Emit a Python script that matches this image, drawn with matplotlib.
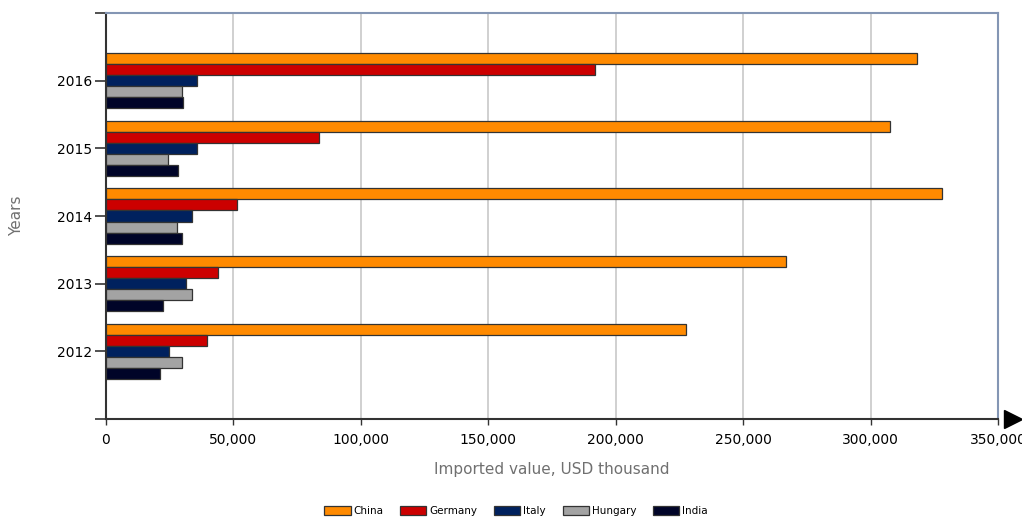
import matplotlib
matplotlib.use("Agg")
import matplotlib.pyplot as plt
import numpy as np
from matplotlib.ticker import FuncFormatter

years = ["2012", "2013", "2014", "2015", "2016"]
countries = ["China", "Germany", "Italy", "Hungary", "India"]
china = [227500, 267000, 328200, 307700, 318300]
germany = [39600, 43900, 51400, 83500, 191800]
italy = [24700, 31400, 33700, 35700, 35700]
hungary = [29800, 33700, 27800, 24300, 29800]
india = [21200, 22400, 29800, 28200, 30200]
series = [china, germany, italy, hungary, india]
colors = ["#FF8A00", "#CC0000", "#00215E", "#A3A3A3", "#000428"]

fig = plt.figure(figsize=(10.22, 5.18), dpi=100)
ax = fig.add_axes([0.1037, 0.1911, 0.8728, 0.7838])

bh = 0.163
y = np.arange(len(years))
for i, (name, vals, c) in enumerate(zip(countries, series, colors)):
    offs = (2 - i) * bh
    ax.barh(y + offs, vals, height=bh, color=c, edgecolor="#333333",
            linewidth=0.9, label=name, zorder=3)

ax.set_xlim(0, 350000)
ax.set_ylim(-1, 5)
ax.set_xticks(np.arange(0, 350001, 50000))
ax.xaxis.set_major_formatter(FuncFormatter(lambda v, p: f"{int(v):,}"))
ax.set_yticks([-1, 0, 1, 2, 3, 4, 5])
ax.set_yticklabels([""] + years + [""])
ax.tick_params(axis="y", length=8, width=1.2, color="#333333", labelsize=10, pad=2)
ax.tick_params(axis="x", length=4, width=1.0, color="#333333", labelsize=10, pad=6)
ax.grid(axis="x", color="#C8C8C8", linewidth=1.2, zorder=0)

for s in ["left", "bottom"]:
    ax.spines[s].set_color("#333333")
    ax.spines[s].set_linewidth(1.5)
for s in ["top", "right"]:
    ax.spines[s].set_color("#8496B4")
    ax.spines[s].set_linewidth(1.5)

ax.plot([1.017], [0], marker=">", markersize=13, color="black",
        transform=ax.transAxes, clip_on=False, zorder=5)

ax.set_xlabel("Imported value, USD thousand", color="#707070", fontsize=11)
ax.xaxis.set_label_coords(0.5, -0.105)
ax.set_ylabel("Years", color="#707070", fontsize=11)
ax.yaxis.set_label_coords(-0.092, 0.5)

fig.legend(loc="center", bbox_to_anchor=(0.505, 0.013), ncol=5, frameon=False,
           fontsize=7.5, handlelength=2.5, handleheight=0.9, columnspacing=1.6,
           handletextpad=0.3)

fig.savefig("out.png", dpi=100)
